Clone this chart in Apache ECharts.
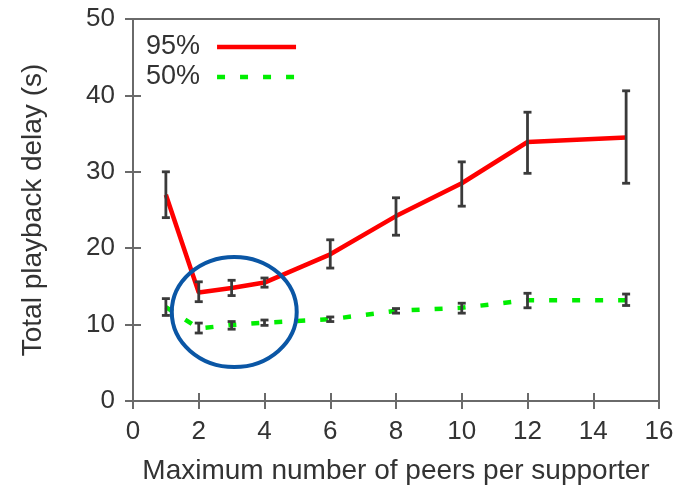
<!DOCTYPE html>
<html>
<head>
<meta charset="utf-8">
<script src="https://cdn.jsdelivr.net/npm/echarts@6/dist/echarts.min.js"></script>
<style>
  html, body { margin: 0; padding: 0; background: #fff; }
  #chart { width: 694px; height: 490px; }
</style>
</head>
<body>
<div id="chart"></div>
<script>
// peers per supporter
const peers = [1, 2, 3, 4, 6, 8, 10, 12, 15];

// 95th percentile delay (s) with error range
const p95 = [27, 14.2, 14.8, 15.5, 19.2, 24.2, 28.5, 33.9, 34.5];
const p95Low = [24, 13.0, 13.8, 14.9, 17.4, 21.7, 25.5, 29.8, 28.5];
const p95High = [30, 15.6, 15.8, 16.1, 21.1, 26.6, 31.3, 37.8, 40.6];

// median delay (s) with error range
const p50 = [12.3, 9.5, 9.95, 10.25, 10.7, 11.8, 12.2, 13.2, 13.2];
const p50Low = [11.2, 8.9, 9.4, 9.9, 10.4, 11.5, 11.5, 12.2, 12.5];
const p50High = [13.4, 10.2, 10.4, 10.6, 11.0, 12.1, 12.8, 14.1, 14.0];

const xTicks = [0, 2, 4, 6, 8, 10, 12, 14, 16];
const yTicks = [0, 10, 20, 30, 40, 50];

// highlighted region (data units): centre and radii
const mark = { x: 3.08, y: 11.65, rx: 1.9, ry: 7.2 };

const chart = echarts.init(document.getElementById('chart'));

const font = 'Liberation Sans, Arial, sans-serif';
const frame = '#6a6a6a';

function errorBars(low, high) {
  return peers.map((x, i) => [x, low[i], high[i]]);
}

function renderBar(params, api) {
  const x = api.value(0);
  const lo = api.coord([x, api.value(1)]);
  const hi = api.coord([x, api.value(2)]);
  const w = 4;
  const st = { stroke: '#3a3a3a', lineWidth: 2.8 };
  return {
    type: 'group',
    children: [
      { type: 'line', shape: { x1: lo[0], y1: lo[1], x2: hi[0], y2: hi[1] }, style: st },
      { type: 'line', shape: { x1: lo[0] - w, y1: lo[1], x2: lo[0] + w, y2: lo[1] }, style: st },
      { type: 'line', shape: { x1: hi[0] - w, y1: hi[1], x2: hi[0] + w, y2: hi[1] }, style: st }
    ]
  };
}

const mirrorAxis = {
  min: 0,
  axisLine: { show: false },
  axisLabel: { show: false },
  axisTick: { show: true, inside: true, length: 8, lineStyle: { color: frame, width: 2 } },
  splitLine: { show: false }
};

const option = {
  animation: false,
  backgroundColor: '#fff',
  grid: { left: 133, right: 35, top: 19, bottom: 89, show: true, borderColor: frame, borderWidth: 2, containLabel: false },
  legend: {
    orient: 'vertical',
    left: 141,
    top: 28,
    align: 'right',
    itemWidth: 79,
    itemHeight: 14,
    itemGap: 2,
    data: ['95%', '50%'],
    itemStyle: { opacity: 0 },
    lineStyle: { width: 4.5 },
    textStyle: { fontFamily: font, fontSize: 27, color: '#333', lineHeight: 28, padding: [0, 12, 0, 0] }
  },
  xAxis: [{
    type: 'value',
    min: 0, max: 16, interval: 2,
    name: 'Maximum number of peers per supporter',
    nameLocation: 'middle',
    nameGap: 56,
    nameTextStyle: { fontFamily: font, fontSize: 28, color: '#333' },
    axisLine: { show: false },
    axisTick: { inside: true, length: 8, lineStyle: { color: frame, width: 2 } },
    axisLabel: { margin: 18, fontFamily: font, fontSize: 26, color: '#333',
      formatter: v => xTicks.includes(v) ? String(v) : '' },
    splitLine: { show: false }
  }, Object.assign({ type: 'value', position: 'top', max: 16, interval: 2 }, mirrorAxis)],
  yAxis: [{
    type: 'value',
    min: 0, max: 50, interval: 10,
    name: 'Total playback delay (s)',
    nameLocation: 'middle',
    nameGap: 86,
    nameTextStyle: { fontFamily: font, fontSize: 28, color: '#333' },
    axisLine: { show: false },
    axisTick: { inside: true, length: 8, lineStyle: { color: frame, width: 2 } },
    axisLabel: { margin: 18, fontFamily: font, fontSize: 26, color: '#333',
      formatter: v => yTicks.includes(v) ? String(v) : '' },
    splitLine: { show: false }
  }, Object.assign({ type: 'value', position: 'right', max: 50, interval: 10 }, mirrorAxis)],
  series: [
    {
      name: '95%',
      type: 'line',
      data: peers.map((x, i) => [x, p95[i]]),
      symbol: 'none',
      lineStyle: { color: '#ff0000', width: 4.5 },
      itemStyle: { color: '#ff0000' },
      z: 2
    },
    {
      name: '50%',
      type: 'line',
      data: peers.map((x, i) => [x, p50[i]]),
      symbol: 'none',
      lineStyle: { color: '#00ee00', width: 4.5, type: [8, 15] },
      itemStyle: { color: '#00ee00' },
      z: 2
    },
    {
      name: '95% err',
      type: 'custom',
      renderItem: renderBar,
      encode: { x: 0, y: [1, 2] },
      data: errorBars(p95Low, p95High),
      z: 3
    },
    {
      name: '50% err',
      type: 'custom',
      renderItem: renderBar,
      encode: { x: 0, y: [1, 2] },
      data: errorBars(p50Low, p50High),
      z: 3
    }
  ]
};

chart.setOption(option);

// blue ellipse annotation placed through the axes
const c = chart.convertToPixel({ gridIndex: 0 }, [mark.x, mark.y]);
const e = chart.convertToPixel({ gridIndex: 0 }, [mark.x + mark.rx, mark.y + mark.ry]);
chart.setOption({
  graphic: [{
    type: 'ellipse',
    shape: { cx: c[0], cy: c[1], rx: Math.abs(e[0] - c[0]), ry: Math.abs(c[1] - e[1]) },
    style: { fill: 'none', stroke: '#0a56a5', lineWidth: 4 },
    z: 10
  }]
});
</script>
</body>
</html>
